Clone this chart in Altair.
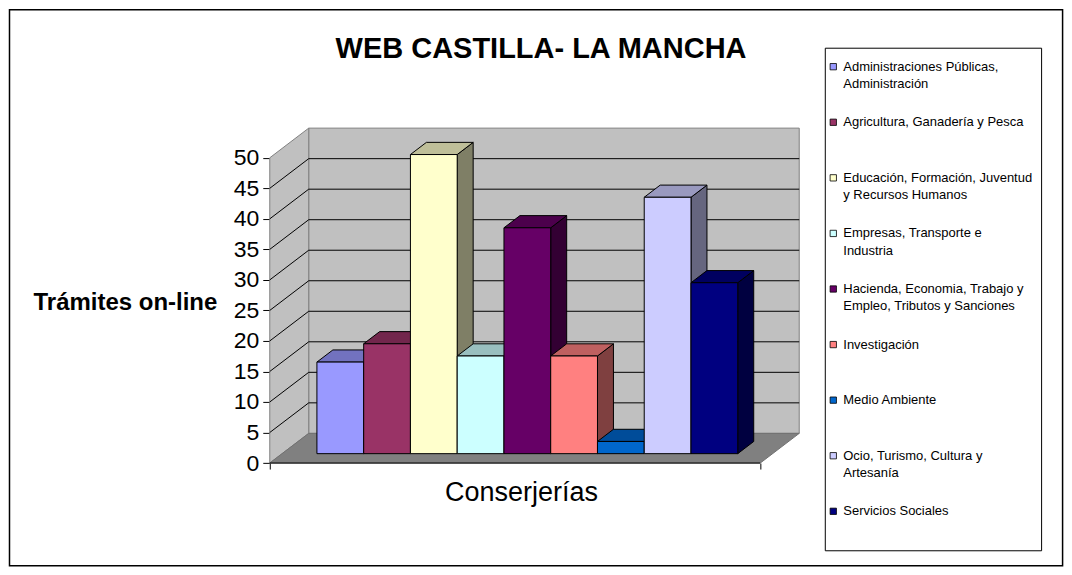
import altair as alt
import pandas as pd

# ---------------- data ----------------
TITLE = "WEB CASTILLA- LA MANCHA"
Y_TITLE = "Trámites on-line"
X_TITLE = "Conserjerías"

LEGEND_LINE1 = [
    "Administraciones Públicas,",
    "Agricultura, Ganadería y Pesca",
    "Educación, Formación, Juventud",
    "Empresas, Transporte  e",
    "Hacienda, Economia, Trabajo y",
    "Investigación",
    "Medio Ambiente",
    "Ocio, Turismo, Cultura y",
    "Servicios Sociales",
]
LEGEND_LINE2 = [
    "Administración",
    "",
    "y Recursos Humanos",
    "Industria",
    "Empleo, Tributos y Sanciones",
    "",
    "",
    "Artesanía",
    "",
]
VALUES = [15, 18, 49, 16, 37, 16, 2, 42, 28]
COLORS = ["#9999FF", "#993366", "#FFFFCC", "#CCFFFF", "#660066",
          "#FF8080", "#0066CC", "#CCCCFF", "#000080"]
Y_TICKS = [0, 5, 10, 15, 20, 25, 30, 35, 40, 45, 50]

# ---------------- layout / 3D projection constants ----------------
FONT = "Liberation Sans"
Y_MAX = 50
W_FRONT = 10.49          # floor front width, in bar widths
DX, DY = 0.833, 4.86     # oblique depth offset (x in bar widths, y in value units)
BAR_F, BAR_B = 0.316, 0.726   # bar front / back depth fraction
PX_X, PX_Y = 46.8, 6.11
PLOT_W = (W_FRONT + DX) * PX_X
PLOT_H = (Y_MAX + DY) * PX_Y
GAP = (W_FRONT - len(VALUES)) / 2
DBX, DBY = (BAR_B - BAR_F) * DX, (BAR_B - BAR_F) * DY


def shade(hexcol, f):
    r, g, b = (int(hexcol[i:i + 2], 16) for i in (1, 3, 5))
    return "#%02x%02x%02x" % (int(r * f), int(g * f), int(b * f))


xs = alt.Scale(domain=[0, W_FRONT + DX], nice=False, zero=False)
ys = alt.Scale(domain=[0, Y_MAX + DY], nice=False, zero=False)

# bars
front_rows, top_rows, side_rows = [], [], []
for i, (v, c) in enumerate(zip(VALUES, COLORS)):
    xl = GAP + i + BAR_F * DX
    xr = xl + 1
    base = BAR_F * DY
    top = base + v
    front_rows.append(dict(i=i, x=xl, x2=xr, y=base, y2=top, c=c))
    top_rows += [dict(i=i, y=top, x=xl, x2=xr, c=shade(c, 0.75)),
                 dict(i=i, y=top + DBY, x=xl + DBX, x2=xr + DBX, c=shade(c, 0.75))]
    side_rows += [dict(i=i, x=xr, y=base, y2=top, c=shade(c, 0.5)),
                  dict(i=i, x=xr + DBX, y=base + DBY, y2=top + DBY, c=shade(c, 0.5))]
df_front = pd.DataFrame(front_rows)
df_top = pd.DataFrame(top_rows)
df_side = pd.DataFrame(side_rows)

df_back = pd.DataFrame([dict(x=DX, x2=W_FRONT + DX, y=DY, y2=Y_MAX + DY)])
df_sidewall = pd.DataFrame([dict(x=0, y=0, y2=Y_MAX), dict(x=DX, y=DY, y2=Y_MAX + DY)])
df_floor = pd.DataFrame([dict(y=0, x=0, x2=W_FRONT), dict(y=DY, x=DX, x2=W_FRONT + DX)])
grid_vals = [t for t in Y_TICKS if 0 < t < Y_MAX]
df_grid = pd.DataFrame([dict(x=DX, x2=W_FRONT + DX, y=t + DY) for t in grid_vals])
df_diag = pd.DataFrame([dict(x=0, x2=DX, y=t, y2=t + DY) for t in grid_vals])
df_xline = pd.DataFrame([dict(x=0, x2=W_FRONT, y=0)])

y_axis = alt.Axis(values=Y_TICKS, title=Y_TITLE, titleAngle=0, titleAlign="right",
                  titleBaseline="alphabetic", titleX=-53, titleY=182,
                  titleFont=FONT, titleFontSize=24, titleFontWeight="bold",
                  titleColor="black", labelFont=FONT, labelFontSize=23,
                  labelColor="black", labelPadding=4, tickSize=7, tickColor="black",
                  domain=False, grid=False)
x_axis = alt.Axis(values=[0, W_FRONT], labels=False, tickSize=6, tickColor="black",
                  domain=False, grid=False, title=X_TITLE, titleX=251.5, titleY=37,
                  titleBaseline="alphabetic", titleFont=FONT, titleFontSize=27,
                  titleFontWeight="normal", titleColor="black")


def X(field="x"):
    return alt.X(f"{field}:Q", scale=xs, axis=x_axis)


def Y(field="y"):
    return alt.Y(f"{field}:Q", scale=ys, axis=y_axis)


back = alt.Chart(df_back).mark_rect(fill="#C0C0C0", stroke="#808080", strokeWidth=1).encode(
    x=X(), x2="x2:Q", y=Y(), y2="y2:Q")
sidewall = alt.Chart(df_sidewall).mark_area(fill="#C0C0C0", stroke="#808080", strokeWidth=1).encode(
    x=X(), y=Y(), y2="y2:Q")
floor = alt.Chart(df_floor).mark_area(orient="horizontal", fill="#808080",
                                      stroke="#707070", strokeWidth=1).encode(
    y=Y(), x=X(), x2="x2:Q")
grid = alt.Chart(df_grid).mark_rule(color="black", strokeWidth=1).encode(
    x=X(), x2="x2:Q", y=Y())
diag = alt.Chart(df_diag).mark_rule(color="black", strokeWidth=1).encode(
    x=X(), x2="x2:Q", y=Y(), y2="y2:Q")
xline = alt.Chart(df_xline).mark_rule(color="black", strokeWidth=1).encode(
    x=X(), x2="x2:Q", y=Y())
sides = alt.Chart(df_side).mark_area(stroke="black", strokeWidth=1, fillOpacity=1).encode(
    x=X(), y=Y(), y2="y2:Q", fill=alt.Fill("c:N", scale=None), detail="i:N")
tops = alt.Chart(df_top).mark_area(orient="horizontal", stroke="black", strokeWidth=1,
                                   fillOpacity=1).encode(
    y=Y(), x=X(), x2="x2:Q", fill=alt.Fill("c:N", scale=None), detail="i:N")
fronts = alt.Chart(df_front).mark_rect(stroke="black", strokeWidth=1).encode(
    x=X(), x2="x2:Q", y=Y(), y2="y2:Q", fill=alt.Fill("c:N", scale=None))

main = alt.layer(back, sidewall, floor, grid, diag, xline, sides, tops, fronts)

# ---------------- legend, frame and title ----------------
ORIGIN_X, ORIGIN_Y = 269, 127.5   # page position of the plot area
df_leg = pd.DataFrame(dict(cat=LEGEND_LINE1, l2=LEGEND_LINE2, c=COLORS))
leg_y = alt.Y("cat:N", sort=None, axis=None,
              scale=alt.Scale(type="point", range=[66 - ORIGIN_Y, 511 - ORIGIN_Y], padding=0))
leg_sym = alt.Chart(df_leg).mark_square(size=40, stroke="black", strokeWidth=0.8, opacity=1).encode(
    x=alt.value(833 - ORIGIN_X), y=leg_y, fill=alt.Fill("c:N", scale=None))
leg_t1 = alt.Chart(df_leg).mark_text(align="left", baseline="middle", font=FONT,
                                     fontSize=13, color="black").encode(
    x=alt.value(843 - ORIGIN_X), y=leg_y, text="cat:N")
leg_t2 = alt.Chart(df_leg).mark_text(align="left", baseline="middle", font=FONT,
                                     fontSize=13, color="black", dy=17.4).encode(
    x=alt.value(843 - ORIGIN_X), y=leg_y, text="l2:N")

df_one = pd.DataFrame(dict(k=[0]))
leg_box = alt.Chart(df_one).mark_rect(fill="white", fillOpacity=0, stroke="black",
                                      strokeWidth=1).encode(
    x=alt.value(825 - ORIGIN_X), x2=alt.value(1041.5 - ORIGIN_X),
    y=alt.value(47.5 - ORIGIN_Y), y2=alt.value(550.5 - ORIGIN_Y))
frame = alt.Chart(df_one).mark_rect(fill="white", fillOpacity=0, stroke="black",
                                    strokeWidth=1.5).encode(
    x=alt.value(8.5 - ORIGIN_X), x2=alt.value(1062.5 - ORIGIN_X),
    y=alt.value(9 - ORIGIN_Y), y2=alt.value(565.5 - ORIGIN_Y))
title = alt.Chart(df_one).mark_text(text=TITLE, align="center", baseline="alphabetic",
                                    font=FONT, fontSize=29, fontWeight="bold",
                                    color="black").encode(
    x=alt.value(540.5 - ORIGIN_X), y=alt.value(57.7 - ORIGIN_Y))

chart = alt.layer(main, alt.layer(frame, leg_box, leg_sym, leg_t1, leg_t2, title)).resolve_scale(
    y="independent"
).properties(
    width=PLOT_W, height=PLOT_H, padding={"left": 0, "top": 0, "right": 0, "bottom": 0},
    background="white"
).configure_view(stroke=None)

chart.save("out.html", embed_options={"renderer": "svg", "actions": False})
